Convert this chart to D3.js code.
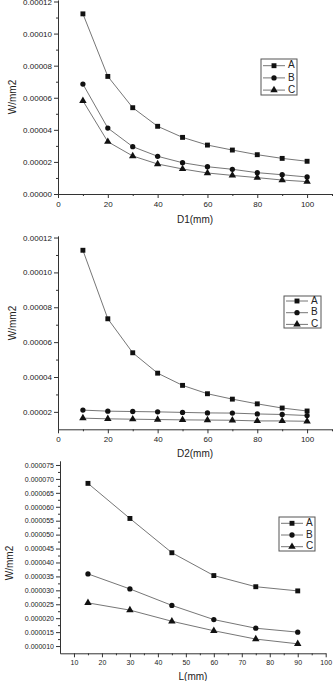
<!DOCTYPE html>
<html>
<head>
<meta charset="utf-8">
<script src="https://cdn.jsdelivr.net/npm/d3@7"></script>
<style>
  body { margin: 0; background: #fff; }
  svg { display: block; font-family: "Liberation Sans", Arial, sans-serif; }
</style>
</head>
<body>
<div id="chart"></div>
<script>
// data
var seriesNames = ["A", "B", "C"];

// chart 1 : D1
var d1X = [10, 20, 30, 40, 50, 60, 70, 80, 90, 100];
var d1A = [0.0001123, 0.0000733, 0.0000538, 0.0000422, 0.0000353, 0.0000305, 0.0000274, 0.0000245, 0.0000222, 0.0000204];
var d1B = [0.0000685, 0.0000411, 0.0000295, 0.0000235, 0.0000195, 0.0000170, 0.0000154, 0.0000133, 0.0000120, 0.0000106];
var d1C = [0.0000581, 0.0000326, 0.0000237, 0.0000187, 0.0000156, 0.0000131, 0.0000116, 0.0000102, 0.0000087, 0.0000077];

// chart 2 : D2
var d2X = [10, 20, 30, 40, 50, 60, 70, 80, 90, 100];
var d2A = [0.0001127, 0.0000734, 0.0000539, 0.0000422, 0.0000352, 0.0000304, 0.0000273, 0.0000246, 0.0000222, 0.0000205];
var d2B = [0.0000210, 0.0000204, 0.0000202, 0.0000200, 0.0000197, 0.0000194, 0.0000193, 0.0000188, 0.0000185, 0.0000179];
var d2C = [0.0000164, 0.0000160, 0.0000158, 0.0000156, 0.0000154, 0.0000153, 0.0000152, 0.0000148, 0.0000148, 0.0000146];

// chart 3 : L
var lX = [15, 30, 45, 60, 75, 90];
var lA = [0.0000684, 0.0000558, 0.0000435, 0.0000353, 0.0000313, 0.0000298];
var lB = [0.0000359, 0.0000305, 0.0000246, 0.0000195, 0.0000164, 0.0000150];
var lC = [0.0000255, 0.0000229, 0.0000189, 0.0000155, 0.0000125, 0.0000108];

var svg = d3.select("#chart").append("svg")
    .attr("width", 335)
    .attr("height", 681);

var lineColour = "#666",
    markColour = "#111",
    textColour = "#222";

/*
draws one panel: axes with minor ticks, three series, legend
*/
function drawPanel(p){

    var xScale = d3.scaleLinear().domain(p.xDomain).range(p.xRange);
    var yScale = d3.scaleLinear().domain(p.yDomain).range(p.yRange);

    var g = svg.append("g");

    // minor ticks first, major ticks over them
    g.append("g")
        .attr("transform", "translate(0," + p.yRange[0] + ")")
        .call(d3.axisBottom(xScale).tickValues(p.xMinor).tickSize(2).tickFormat(""))
        .call(function(s){ s.select(".domain").remove(); });
    g.append("g")
        .attr("transform", "translate(" + p.xRange[0] + ",0)")
        .call(d3.axisLeft(yScale).tickValues(p.yMinor).tickSize(2).tickFormat(""))
        .call(function(s){ s.select(".domain").remove(); });

    var xAxis = g.append("g")
        .attr("transform", "translate(0," + p.yRange[0] + ")")
        .call(d3.axisBottom(xScale).tickValues(p.xTicks).tickSize(4).tickSizeOuter(0).tickPadding(3));
    var yAxis = g.append("g")
        .attr("transform", "translate(" + p.xRange[0] + ",0)")
        .call(d3.axisLeft(yScale).tickValues(p.yTicks).tickSize(4).tickSizeOuter(0)
            .tickPadding(2).tickFormat(d3.format(p.yFormat)));

    g.selectAll(".tick line, .domain")
        .attr("stroke", "#333")
        .attr("stroke-width", 1);
    g.selectAll(".tick text")
        .attr("fill", textColour)
        .style("font-size", p.tickFont + "px");

    // axis titles
    g.append("text")
        .attr("x", p.xTitlePos[0])
        .attr("y", p.xTitlePos[1])
        .attr("text-anchor", "middle")
        .attr("dominant-baseline", "middle")
        .attr("fill", textColour)
        .style("font-size", "10px")
        .text(p.xTitle);

    g.append("text")
        .attr("transform", "translate(" + p.yTitlePos[0] + "," + p.yTitlePos[1] + ") rotate(-90)")
        .attr("text-anchor", "middle")
        .attr("dominant-baseline", "middle")
        .attr("fill", textColour)
        .style("font-size", "10px")
        .text("W/mm2");

    var line = d3.line()
        .x(function(d){ return xScale(d[0]); })
        .y(function(d){ return yScale(d[1]); });

    p.series.forEach(function(vals, i){
        var pts = p.x.map(function(x, j){ return [x, vals[j]]; });

        g.append("path")
            .datum(pts)
            .attr("d", line)
            .attr("fill", "none")
            .attr("stroke", lineColour)
            .attr("stroke-width", 0.9);

        g.selectAll(".mk" + i)
            .data(pts)
            .enter().append("path")
            .attr("class", "mk" + i)
            .attr("transform", function(d){
                return "translate(" + xScale(d[0]) + "," + yScale(d[1]) + ")";
            })
            .attr("d", symbolPath(i))
            .attr("fill", markColour);
    });

    // legend
    var lg = p.legend;
    g.append("rect")
        .attr("x", lg.x).attr("y", lg.y)
        .attr("width", lg.w).attr("height", lg.h)
        .attr("fill", "#fff")
        .attr("stroke", "#555")
        .attr("stroke-width", 1);

    seriesNames.forEach(function(name, i){
        var yy = lg.y + lg.first + i * lg.step;
        g.append("line")
            .attr("x1", lg.x + 2).attr("x2", lg.x + 24)
            .attr("y1", yy).attr("y2", yy)
            .attr("stroke", lineColour)
            .attr("stroke-width", 0.9);
        g.append("path")
            .attr("transform", "translate(" + (lg.x + 13) + "," + yy + ")")
            .attr("d", symbolPath(i))
            .attr("fill", markColour);
        g.append("text")
            .attr("x", lg.x + 27)
            .attr("y", yy)
            .attr("dominant-baseline", "middle")
            .attr("fill", textColour)
            .style("font-size", "10px")
            .text(name);
    });
}

function symbolPath(i){
    var types = [d3.symbolSquare, d3.symbolCircle, d3.symbolTriangle];
    var sizes = [24, 22, 24];
    return d3.symbol().type(types[i]).size(sizes[i])();
}

drawPanel({
    x: d1X, series: [d1A, d1B, d1C],
    xDomain: [0, 110], xRange: [58, 332],
    yDomain: [0, 0.000121], yRange: [194, -0.1],
    xTicks: [0, 20, 40, 60, 80, 100], xMinor: d3.range(10, 111, 20),
    yTicks: d3.range(0, 6.5).map(function(k){ return k * 0.00002; }),
    yMinor: d3.range(0, 6).map(function(k){ return (2 * k + 1) * 0.00001; }),
    yFormat: ".5f", tickFont: 8,
    xTitle: "D1(mm)", xTitlePos: [195, 220], yTitlePos: [13, 97],
    legend: {x: 261, y: 59, w: 36, h: 36, first: 6.7, step: 12.2}
});

drawPanel({
    x: d2X, series: [d2A, d2B, d2C],
    xDomain: [0, 110], xRange: [58, 332],
    yDomain: [0.00001, 0.000121], yRange: [429.3, 235.8],
    xTicks: [0, 20, 40, 60, 80, 100], xMinor: d3.range(10, 111, 20),
    yTicks: d3.range(1, 6.5).map(function(k){ return k * 0.00002; }),
    yMinor: d3.range(1, 6).map(function(k){ return (2 * k + 1) * 0.00001; }),
    yFormat: ".5f", tickFont: 8,
    xTitle: "D2(mm)", xTitlePos: [195, 454], yTitlePos: [13, 323],
    legend: {x: 284, y: 296, w: 37, h: 32, first: 5, step: 11.7}
});

drawPanel({
    x: lX, series: [lA, lB, lC],
    xDomain: [5, 100], xRange: [60, 325.7],
    yDomain: [0.0000074, 0.0000765], yRange: [653.3, 460.8],
    xTicks: d3.range(10, 101, 10), xMinor: d3.range(15, 100, 10),
    yTicks: d3.range(2, 15.5).map(function(k){ return k * 0.000005; }),
    yMinor: d3.range(2, 15).map(function(k){ return (k + 0.5) * 0.000005; }),
    yFormat: ".6f", tickFont: 7,
    xTitle: "L(mm)", xTitlePos: [193, 677], yTitlePos: [10, 563],
    legend: {x: 279, y: 517, w: 36, h: 34, first: 6.3, step: 11.7}
});
</script>
</body>
</html>
